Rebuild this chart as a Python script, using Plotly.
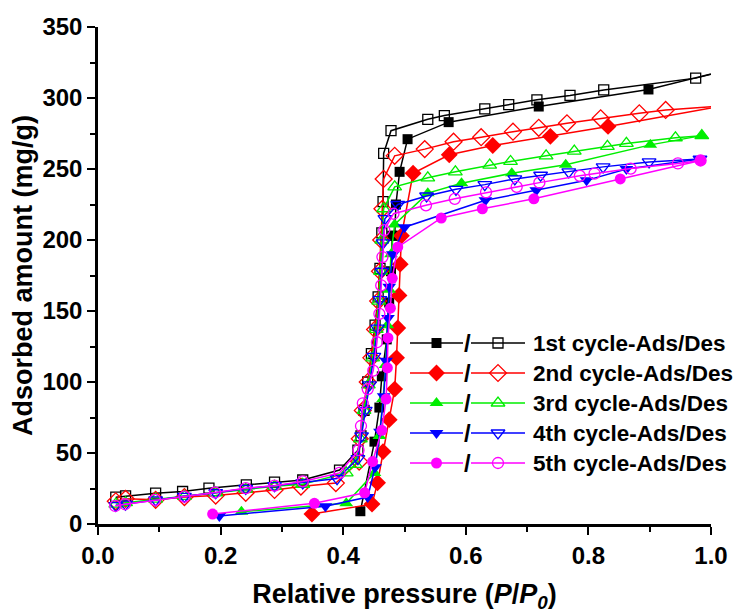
import plotly.graph_objects as go

# ---- isotherm data: relative pressure (P/P0) and adsorbed amount (mg/g) ----
# 1st cycle
c1_ads_x = [0.428, 0.451, 0.459, 0.463, 0.471, 0.475, 0.478, 0.480, 0.484, 0.486, 0.492, 0.505, 0.572, 0.719, 0.898, 1.02]
c1_ads_y = [9, 58, 82, 104, 130, 156, 178, 203, 203, 225, 248, 271, 283, 294, 306, 319]
c1_des_x = [1.02, 0.975, 0.825, 0.770, 0.716, 0.670, 0.631, 0.565, 0.538, 0.478, 0.466, 0.465, 0.463, 0.460, 0.457,
            0.452, 0.446, 0.440, 0.434, 0.429, 0.424, 0.394, 0.334, 0.288, 0.242, 0.181, 0.138, 0.094, 0.045, 0.029]
c1_des_y = [319, 314, 305.7, 301.8, 298.7, 295.3, 292.3, 287.6, 285, 277, 261, 227, 205, 180, 160,
            140, 120, 100, 80, 62, 52, 38, 31, 29.5, 27.6, 25.2, 22.9, 21.7, 19.8, 18.9]

# 2nd cycle
c2_ads_x = [0.349, 0.447, 0.456, 0.465, 0.475, 0.484, 0.487, 0.489, 0.491, 0.493, 0.495, 0.514, 0.573, 0.644, 0.738, 0.832, 1.02]
c2_ads_y = [7, 14, 29, 51, 73.5, 95, 117, 138, 161, 183, 203, 247, 260, 266.5, 273, 280, 294.5]
c2_des_x = [1.02, 0.926, 0.883, 0.820, 0.765, 0.719, 0.677, 0.625, 0.580, 0.533, 0.484, 0.466, 0.464, 0.462, 0.460,
            0.457, 0.452, 0.446, 0.440, 0.432, 0.427, 0.426, 0.388, 0.331, 0.288, 0.241, 0.192, 0.141, 0.094, 0.045, 0.029]
c2_des_y = [294.5, 291.6, 289.2, 285.7, 282.2, 279, 276.3, 272.4, 269.2, 264, 259.3, 243, 222, 200, 178,
            157, 137, 117, 100, 80, 60, 44, 28.8, 26.4, 24, 22, 20, 19, 17, 17.7, 16]

# 3rd cycle
c3_ads_x = [0.234, 0.405, 0.451, 0.459, 0.465, 0.469, 0.472, 0.475, 0.478, 0.484, 0.538, 0.593, 0.675, 0.763, 0.901, 0.985]
c3_ads_y = [8.7, 14.6, 36, 62, 88, 112, 140, 165, 190, 211, 233, 240, 247, 253, 267, 273.5]
c3_des_x = [0.985, 0.942, 0.862, 0.831, 0.777, 0.731, 0.673, 0.639, 0.583, 0.538, 0.484, 0.466, 0.463, 0.461, 0.458,
            0.454, 0.448, 0.441, 0.434, 0.428, 0.420, 0.405, 0.334, 0.288, 0.241, 0.192, 0.141, 0.094, 0.045, 0.029]
c3_des_y = [273.5, 272, 268, 266, 262.6, 259.3, 255.3, 252.7, 248, 243.8, 237.4, 222, 200, 178, 157,
            137, 117, 98, 80, 60, 42, 36, 28, 26.5, 24.5, 22, 19.5, 17.5, 15, 14]

# 4th cycle
c4_ads_x = [0.198, 0.371, 0.440, 0.452, 0.460, 0.466, 0.470, 0.473, 0.475, 0.481, 0.500, 0.632, 0.715, 0.797, 0.862, 0.982]
c4_ads_y = [5.7, 12.5, 19, 40, 65, 90, 115, 145, 167, 190, 209, 228, 235, 242, 250, 257]
c4_des_x = [0.982, 0.899, 0.824, 0.768, 0.722, 0.680, 0.631, 0.584, 0.536, 0.489, 0.468, 0.465, 0.463, 0.460, 0.456,
            0.450, 0.443, 0.436, 0.430, 0.424, 0.390, 0.334, 0.288, 0.241, 0.192, 0.141, 0.094, 0.045, 0.029]
c4_des_y = [257, 255, 251.5, 248, 245.6, 243, 239, 235.7, 231, 225, 215, 198, 178, 158, 138,
            118, 98, 80, 62, 46, 32, 29, 27, 25, 22, 19.5, 17, 14, 13]

# 5th cycle
c5_ads_x = [0.187, 0.353, 0.435, 0.448, 0.463, 0.470, 0.472, 0.473, 0.477, 0.480, 0.489, 0.560, 0.627, 0.711, 0.852, 0.983]
c5_ads_y = [7, 14.6, 22, 44, 66, 88, 110, 131, 152, 173, 195, 215.5, 222, 229, 243, 256]
c5_des_x = [0.983, 0.946, 0.869, 0.810, 0.786, 0.720, 0.683, 0.633, 0.582, 0.535, 0.482, 0.467, 0.464, 0.462, 0.459,
            0.455, 0.449, 0.440, 0.432, 0.429, 0.425, 0.394, 0.334, 0.288, 0.241, 0.191, 0.141, 0.093, 0.044, 0.028]
c5_des_y = [256, 253.9, 250.3, 246.8, 245.2, 240.4, 237.4, 233.6, 229, 224.4, 218.5, 207, 188, 168, 148,
            128, 108, 95, 85, 69, 52, 36, 30, 27, 25.2, 22.2, 19.3, 17, 13.9, 12.7]

legend_labels = ["1st cycle-Ads/Des", "2nd cycle-Ads/Des", "3rd cycle-Ads/Des",
                 "4th cycle-Ads/Des", "5th cycle-Ads/Des"]
x_ticks = [0.0, 0.2, 0.4, 0.6, 0.8, 1.0]
y_ticks = [0, 50, 100, 150, 200, 250, 300, 350]

# ---- styling per cycle ----
series = [
    (c1_ads_x, c1_ads_y, c1_des_x, c1_des_y, "#000000", "square", 10),
    (c2_ads_x, c2_ads_y, c2_des_x, c2_des_y, "#FF0000", "diamond", 13),
    (c3_ads_x, c3_ads_y, c3_des_x, c3_des_y, "#00EE00", "triangle-up", 12),
    (c4_ads_x, c4_ads_y, c4_des_x, c4_des_y, "#0000FF", "triangle-down", 12),
    (c5_ads_x, c5_ads_y, c5_des_x, c5_des_y, "#FF00FF", "circle", 11),
]

FONT = "Liberation Sans, Arial, sans-serif"
fig = go.Figure()

for ax, ay, dx, dy, col, sym, sz in series:
    fig.add_trace(go.Scatter(
        x=dx, y=dy, mode="lines+markers", showlegend=False,
        line=dict(color=col, width=1.5),
        marker=dict(symbol=sym + "-open", size=sz, color=col, line=dict(color=col, width=1.3)),
    ))
    fig.add_trace(go.Scatter(
        x=ax, y=ay, mode="lines+markers", showlegend=False,
        line=dict(color=col, width=1.5),
        marker=dict(symbol=sym, size=sz, color=col, line=dict(width=0)),
    ))

# ---- hand-built legend: "filled / open" pairs drawn on a pixel-scaled overlay axis ----
row_y = [343, 373, 403, 433, 463]
seg1 = (410, 463)
seg2 = (471, 525)
for (ax, ay, dx, dy, col, sym, sz), ry, label in zip(series, row_y, legend_labels):
    for (x0, x1), filled in ((seg1, True), (seg2, False)):
        fig.add_trace(go.Scatter(
            x=[x0, x1], y=[ry, ry], mode="lines", xaxis="x2", yaxis="y2",
            showlegend=False, hoverinfo="skip", line=dict(color=col, width=1.5),
        ))
        fig.add_trace(go.Scatter(
            x=[(x0 + x1) / 2], y=[ry], mode="markers", xaxis="x2", yaxis="y2",
            showlegend=False, hoverinfo="skip",
            marker=dict(symbol=sym if filled else sym + "-open", size=sz, color=col,
                        line=dict(color=col, width=0 if filled else 1.3)),
        ))
    fig.add_annotation(x=467, y=ry, xref="x2", yref="y2", text="<b>/</b>", showarrow=False,
                       font=dict(family=FONT, size=24, color="black"))
    fig.add_annotation(x=531, y=ry, xref="x2", yref="y2", text="<b>" + label + "</b>", showarrow=False,
                       xanchor="left", font=dict(family=FONT, size=22.5, color="black"))

axis_common = dict(
    showgrid=False, zeroline=False, showline=True, linecolor="black", linewidth=2.5,
    ticks="outside", ticklen=8, tickwidth=2, tickcolor="black",
    tickfont=dict(family=FONT, size=24, color="black", weight="bold"),
    automargin=False,
)

fig.update_layout(
    width=733, height=613,
    margin=dict(l=98, r=22, t=27, b=89),
    paper_bgcolor="white", plot_bgcolor="white",
    showlegend=False,
    xaxis=dict(
        range=[0, 1], tickvals=x_ticks, ticktext=[f"{v:.1f}" for v in x_ticks],
        minor=dict(dtick=0.1, ticks="outside", ticklen=5, tickwidth=2, tickcolor="black"),
        title=dict(text="<b>Relative pressure (<i>P</i>/<i>P</i><sub><i>0</i></sub>)</b>",
                   font=dict(family=FONT, size=27, color="black"), standoff=20),
        **axis_common,
    ),
    yaxis=dict(
        range=[0, 350], tickvals=y_ticks,
        minor=dict(dtick=25, ticks="outside", ticklen=5, tickwidth=2, tickcolor="black"),
        title=dict(text="<b>Adsorbed amount (mg/g)</b>",
                   font=dict(family=FONT, size=27, color="black"), standoff=2),
        **axis_common,
    ),
    xaxis2=dict(overlaying="x", range=[98, 711], visible=False, anchor="y2"),
    yaxis2=dict(overlaying="y", range=[524, 27], visible=False, anchor="x2"),
)

fig.write_html("out.html")
